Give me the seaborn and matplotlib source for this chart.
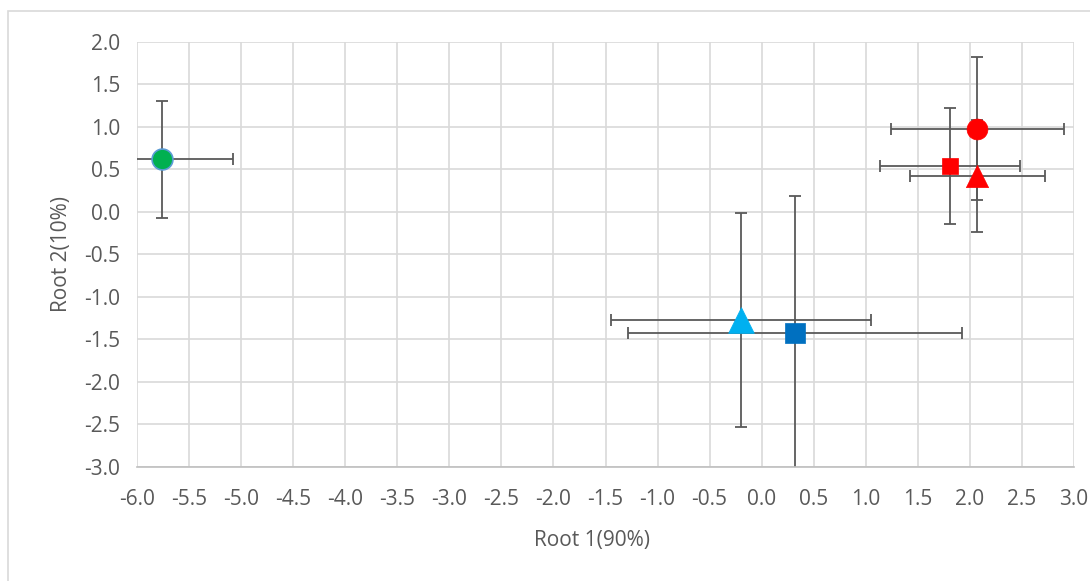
import numpy as np
import pandas as pd
import matplotlib
matplotlib.use('Agg')
import matplotlib.pyplot as plt
from matplotlib.patches import Rectangle
import seaborn as sns

sns.set_style('white')
plt.rcParams['font.family'] = ['Open Sans', 'DejaVu Sans']

# group centroids (Root 1, Root 2) with error in each direction
groups = ['g1', 'g2', 'g3', 'g4', 'g5', 'g6']
root1 = [-5.76, 2.07, 1.81, 2.07, -0.20, 0.32]
root2 = [0.62, 0.98, 0.54, 0.42, -1.27, -1.42]
err1 = [0.68, 0.83, 0.67, 0.65, 1.25, 1.60]
err2 = [0.69, 0.84, 0.68, 0.66, 1.26, 1.61]
markers = ['o', 'o', 's', '^', '^', 's']
colors = ['#00B050', '#FF0000', '#FF0000', '#FF0000', '#00B0F0', '#0070C0']
edges = ['#5B9BD5', '#FF0000', '#FF0000', '#FF0000', '#00B0F0', '#0070C0']
msizes = [15, 15, 11.5, 16, 18.5, 15]

df = pd.DataFrame({'grp': groups, 'root1': root1, 'root2': root2,
                   'err1': err1, 'err2': err2})

fig = plt.figure(figsize=(10.9, 5.81), dpi=100)
ax = fig.add_axes([137 / 1090, 1 - 467 / 581, 937 / 1090, 425 / 581])

# chart border (excel chart area)
fig.patches.append(Rectangle((8 / 1090, -0.05), 1.1, 1 - 11 / 581 + 0.05,
                             transform=fig.transFigure, fill=False,
                             edgecolor='#D9D9D9', linewidth=1.2, zorder=0))

ax.errorbar(df['root1'], df['root2'], xerr=df['err1'], yerr=df['err2'],
            fmt='none', ecolor='#595959', elinewidth=1.3, capsize=4,
            capthick=1.3, zorder=2)

for i, row in df.iterrows():
    sns.scatterplot(x=[row['root1']], y=[row['root2']], ax=ax,
                    marker=markers[i], color=colors[i],
                    s=msizes[i] ** 2, edgecolor=edges[i],
                    linewidth=1.2 if i == 0 else 0.5, zorder=3, legend=False)

ax.set_xlim(-6.0, 3.0)
ax.set_ylim(-3.0, 2.0)
ax.set_xticks(np.arange(-6.0, 3.01, 0.5))
ax.set_yticks(np.arange(-3.0, 2.01, 0.5))
ax.xaxis.set_major_formatter(matplotlib.ticker.FormatStrFormatter('%.1f'))
ax.yaxis.set_major_formatter(matplotlib.ticker.FormatStrFormatter('%.1f'))
ax.grid(True, color='#D9D9D9', linewidth=1.2)
ax.set_axisbelow(True)
for s in ['top', 'right', 'left']:
    ax.spines[s].set_visible(False)
ax.spines['bottom'].set_color('#BFBFBF')
ax.spines['bottom'].set_linewidth(1.2)
ax.tick_params(axis='both', length=0, labelsize=15, labelcolor='#595959')
ax.tick_params(axis='x', pad=16)
ax.tick_params(axis='y', pad=12)

ax.set_xlabel('Root 1(90%)', fontsize=15, color='#595959')
ax.set_ylabel('Root 2(10%)', fontsize=15, color='#595959')
ax.xaxis.set_label_coords(0.486, -0.173)
ax.yaxis.set_label_coords(-0.081, 0.5)
ax.xaxis.label.set_va('center')
ax.yaxis.label.set_va('center')

fig.savefig('out.png', dpi=100)
